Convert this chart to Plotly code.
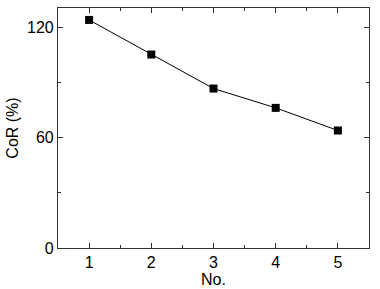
import plotly.graph_objects as go

sample_no = [1, 2, 3, 4, 5]
cor_pct = [124.0, 105.2, 86.7, 76.2, 63.9]
x_ticks = [1, 2, 3, 4, 5]
y_ticks = [0, 60, 120]

FONT = "Liberation Sans, Arial"

fig = go.Figure()
fig.add_trace(go.Scatter(
    x=sample_no, y=cor_pct, mode="lines+markers",
    line=dict(color="black", width=1),
    marker=dict(symbol="square", size=8, color="black"),
    showlegend=False,
))

axis_common = dict(
    showline=True, linecolor="#333333", linewidth=1.2, mirror="allticks",
    ticks="inside", ticklen=5, tickwidth=1, tickcolor="#333333",
    showgrid=False, zeroline=False, automargin=False,
    tickfont=dict(family=FONT, size=16, color="black"),
)

fig.update_xaxes(
    range=[0.5, 5.5], tickvals=x_ticks, ticktext=[str(v) for v in x_ticks],
    title=dict(text="No.", font=dict(family=FONT, size=16, color="black"), standoff=3),
    minor=dict(ticks="inside", ticklen=3, tickcolor="#333333", dtick=0.5, tick0=0.5),
    **axis_common,
)
fig.update_yaxes(
    range=[0, 130.5], tickvals=y_ticks, ticktext=[str(v) for v in y_ticks],
    title=dict(text="CoR (%)", font=dict(family=FONT, size=16, color="black"), standoff=4),
    minor=dict(ticks="inside", ticklen=3, tickcolor="#333333", dtick=30, tick0=0),
    **axis_common,
)

fig.update_layout(
    width=380, height=289,
    margin=dict(l=58, r=11, t=8, b=41),
    plot_bgcolor="white", paper_bgcolor="white",
)

fig.write_html("out.html")
